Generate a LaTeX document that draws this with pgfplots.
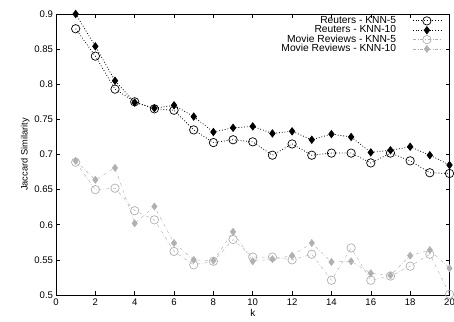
\documentclass[border=0pt]{standalone}
\usepackage{fontspec}
\setmainfont{Liberation Sans}
\usepackage{pgfplots}
\pgfplotsset{compat=1.18}
\definecolor{mgray}{HTML}{B0B0B0}
\begin{document}
\fontsize{10pt}{11pt}\selectfont
\begin{tikzpicture}
\begin{axis}[
  scale only axis, width=393.5bp, height=281bp,
  at={(0,0)}, anchor=south west,
  xmin=0, xmax=20, ymin=0.5, ymax=0.9,
  xtick={0,2,...,20},
  ytick={0.5,0.55,...,0.9},
  yticklabels={0.5,0.55,0.6,0.65,0.7,0.75,0.8,0.85,0.9},
  tick align=inside, major tick length=4bp,
  tick style={black, line width=0.6pt},
  axis line style={line width=0.9pt},
  /pgf/number format/assume math mode=true,
  ticklabel style={font=\fontsize{9.6pt}{10pt}\selectfont},
  yticklabel style={xshift=0.5bp},
  xlabel={k}, ylabel={Jaccard Similarity},
  xlabel style={font=\fontsize{10pt}{10pt}\selectfont, yshift=3bp},
  ylabel style={font=\fontsize{9.3pt}{10pt}\selectfont, yshift=-2bp},
  legend style={at={(rel axis cs:1,1)}, anchor=north east, xshift=-8bp, yshift=-2bp,
    draw=none, fill=none, inner sep=0pt, row sep=0pt, column sep=0bp,
    nodes={inner sep=0.4pt, text height=7pt, text depth=1.6pt, font=\fontsize{10.3pt}{10pt}\selectfont}},
  legend cell align=right,
  legend plot pos=right,
  legend image code/.code={\draw[mark repeat=2,mark phase=2] plot coordinates {(0bp,0bp) (14bp,0bp) (28bp,0bp)};},
]
\addplot[black, dotted, line width=0.8pt, mark=o, mark size=4.2bp, mark options={solid, line width=0.7pt}] coordinates {
(1,0.879) (2,0.840) (3,0.793) (4,0.775) (5,0.765) (6,0.763) (7,0.735) (8,0.717) (9,0.721) (10,0.718)
(11,0.699) (12,0.715) (13,0.699) (14,0.702) (15,0.702) (16,0.688) (17,0.702) (18,0.691) (19,0.674) (20,0.673)};
\addlegendentry{Reuters - KNN-5\hspace*{16bp}}
\addplot[black, dotted, line width=0.8pt, mark=diamond*, mark size=3.6bp, mark options={solid}] coordinates {
(1,0.900) (2,0.854) (3,0.805) (4,0.774) (5,0.766) (6,0.770) (7,0.754) (8,0.732) (9,0.738) (10,0.740)
(11,0.730) (12,0.733) (13,0.721) (14,0.729) (15,0.725) (16,0.703) (17,0.706) (18,0.711) (19,0.699) (20,0.685)};
\addlegendentry{Reuters - KNN-10\hspace*{16bp}}
\addplot[mgray, dash dot, line width=0.45pt, mark=o, mark size=4.2bp, mark options={solid, line width=0.7pt}] coordinates {
(1,0.689) (2,0.650) (3,0.652) (4,0.620) (5,0.607) (6,0.562) (7,0.543) (8,0.548) (9,0.579) (10,0.554)
(11,0.554) (12,0.550) (13,0.558) (14,0.521) (15,0.567) (16,0.521) (17,0.527) (18,0.541) (19,0.558) (20,0.501)};
\addlegendentry{Movie Reviews - KNN-5\hspace*{16bp}}
\addplot[mgray, dash dot, line width=0.45pt, mark=diamond*, mark size=3.6bp, mark options={solid}] coordinates {
(1,0.691) (2,0.664) (3,0.681) (4,0.602) (5,0.626) (6,0.574) (7,0.550) (8,0.549) (9,0.590) (10,0.548)
(11,0.551) (12,0.556) (13,0.574) (14,0.547) (15,0.548) (16,0.531) (17,0.528) (18,0.556) (19,0.564) (20,0.538)};
\addlegendentry{Movie Reviews - KNN-10\hspace*{16bp}}
\end{axis}
\pgfresetboundingbox
\path[use as bounding box] (-56bp,-27bp) rectangle (398bp,295bp);
\end{tikzpicture}
\end{document}
